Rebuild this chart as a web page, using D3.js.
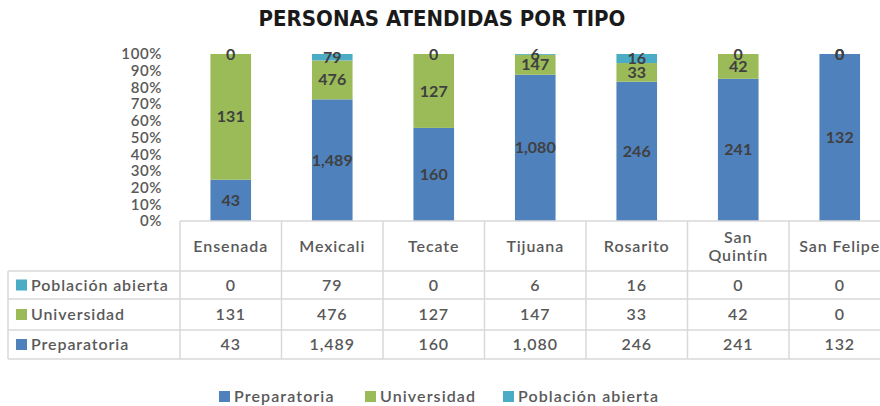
<!DOCTYPE html>
<html>
<head>
<meta charset="utf-8">
<script src="https://cdn.jsdelivr.net/npm/d3@7"></script>
<style>
  html, body { margin: 0; padding: 0; background: #fff; overflow: hidden; }
  svg { display: block; font-family: Lato, "Open Sans", sans-serif; }
</style>
</head>
<body>
<svg id="chart" width="880" height="406"></svg>
<script>
// Campus locations and attendance counts by type
const categories = ["Ensenada", "Mexicali", "Tecate", "Tijuana", "Rosarito", "San Quintín", "San Felipe"];
const preparatoria = [43, 1489, 160, 1080, 246, 241, 132];
const universidad = [131, 476, 127, 147, 33, 42, 0];
const poblacionAbierta = [0, 79, 0, 6, 16, 0, 0];
const yTickLabels = ["0%", "10%", "20%", "30%", "40%", "50%", "60%", "70%", "80%", "90%", "100%"];

const series = [
  { name: "Preparatoria", values: preparatoria, color: "#4F81BD" },
  { name: "Universidad", values: universidad, color: "#9BBB59" },
  { name: "Población abierta", values: poblacionAbierta, color: "#4BACC6" }
];

const svg = d3.select("#chart");
const fmt = d3.format(",");

const plotLeft = 180, colW = 101.5;
const plotRight = plotLeft + colW * categories.length;
const plotTop = 54, plotBottom = 221;

const x = d3.scaleBand().domain(categories).range([plotLeft, plotRight])
  .paddingInner(0.6).paddingOuter(0.3);
const y = d3.scaleLinear().domain([0, 1]).range([plotBottom, plotTop]);

// Title
svg.append("text")
  .attr("x", 442).attr("y", 26)
  .attr("text-anchor", "middle")
  .attr("font-family", "'DejaVu Sans Condensed', 'DejaVu Sans', sans-serif")
  .attr("font-weight", "bold").attr("font-size", 22)
  .attr("fill", "#1a1a1a")
  .text("PERSONAS ATENDIDAS POR TIPO");

// Y axis (percent ticks, no line)
const yAxis = d3.axisLeft(y)
  .tickValues(d3.range(0, 1.0001, 0.1))
  .tickFormat((d, i) => yTickLabels[i])
  .tickSize(0).tickPadding(0);
const gy = svg.append("g").attr("transform", `translate(162,0)`).call(yAxis);
gy.select(".domain").remove();
gy.selectAll("text")
  .attr("font-family", "Lato, sans-serif").attr("font-weight", 600)
  .attr("font-size", 15).attr("letter-spacing", 0.6).attr("fill", "#595959");

// Stack the percentages
const rows = categories.map((c, i) => {
  const total = series.reduce((s, se) => s + se.values[i], 0);
  const r = { cat: c };
  series.forEach(se => { r[se.name] = se.values[i] / total; });
  return r;
});
const stack = d3.stack().keys(series.map(s => s.name));
const stacked = stack(rows);

const layers = svg.append("g").selectAll("g").data(stacked).join("g")
  .attr("fill", (d, i) => series[i].color);
layers.selectAll("rect").data(d => d).join("rect")
  .attr("x", d => x(d.data.cat))
  .attr("width", x.bandwidth())
  .attr("y", d => y(d[1]))
  .attr("height", d => y(d[0]) - y(d[1]));

// Data labels centred on each segment
const labels = svg.append("g");
stacked.forEach((layer, si) => {
  layer.forEach((d, ci) => {
    labels.append("text")
      .attr("x", x(d.data.cat) + x.bandwidth() / 2)
      .attr("y", y((d[0] + d[1]) / 2))
      .attr("dy", "0.35em")
      .attr("text-anchor", "middle")
      .attr("font-weight", "bold").attr("font-size", 16)
      .attr("fill", "#404040")
      .text(fmt(series[si].values[ci]));
  });
});

// Data table below the plot
const tableLeft = 8;
const rowEdges = [plotBottom, 271, 299, 330, 359];
const grid = svg.append("g").attr("stroke", "#d9d9d9").attr("stroke-width", 1.5);
grid.append("line").attr("x1", plotLeft).attr("x2", plotRight).attr("y1", rowEdges[0]).attr("y2", rowEdges[0]);
rowEdges.slice(1).forEach(yy => {
  grid.append("line").attr("x1", tableLeft).attr("x2", plotRight).attr("y1", yy).attr("y2", yy);
});
grid.append("line").attr("x1", tableLeft).attr("x2", tableLeft).attr("y1", rowEdges[1]).attr("y2", rowEdges[4]);
d3.range(categories.length + 1).forEach(i => {
  const xx = plotLeft + i * colW;
  grid.append("line").attr("x1", xx).attr("x2", xx).attr("y1", rowEdges[0]).attr("y2", rowEdges[4]);
});

const tableText = svg.append("g")
  .attr("font-weight", 600).attr("font-size", 16).attr("letter-spacing", 0.9).attr("fill", "#595959");

// Header row with category names (wrapping two-word names when needed)
categories.forEach((c, i) => {
  const cx = plotLeft + (i + 0.5) * colW;
  const cy = (rowEdges[0] + rowEdges[1]) / 2;
  const t = tableText.append("text").attr("x", cx).attr("text-anchor", "middle");
  if (c === "San Quintín") {
    t.append("tspan").attr("x", cx).attr("y", cy - 9).attr("dy", "0.35em").text("San");
    t.append("tspan").attr("x", cx).attr("y", cy + 9).attr("dy", "0.35em").text("Quintín");
  } else {
    t.attr("y", cy).attr("dy", "0.35em").text(c);
  }
});

// Value rows, top to bottom in reverse stacking order
const tableSeries = series.slice().reverse();
tableSeries.forEach((se, r) => {
  const cy = (rowEdges[r + 1] + rowEdges[r + 2]) / 2;
  svg.append("rect")
    .attr("x", 16).attr("y", cy - 5.5).attr("width", 11).attr("height", 11)
    .attr("fill", se.color);
  tableText.append("text")
    .attr("x", 31).attr("y", cy).attr("dy", "0.35em")
    .text(se.name);
  se.values.forEach((v, i) => {
    tableText.append("text")
      .attr("x", plotLeft + (i + 0.5) * colW).attr("y", cy).attr("dy", "0.35em")
      .attr("text-anchor", "middle")
      .text(fmt(v));
  });
});

// Legend
const legendX = [219, 365, 503];
const legend = svg.append("g").attr("font-weight", 600).attr("font-size", 16)
  .attr("letter-spacing", 1.1).attr("fill", "#595959");
series.forEach((se, i) => {
  legend.append("rect").attr("x", legendX[i]).attr("y", 391).attr("width", 11).attr("height", 11).attr("fill", se.color);
  legend.append("text").attr("x", legendX[i] + 15).attr("y", 396.5).attr("dy", "0.35em").text(se.name);
});
</script>
</body>
</html>
